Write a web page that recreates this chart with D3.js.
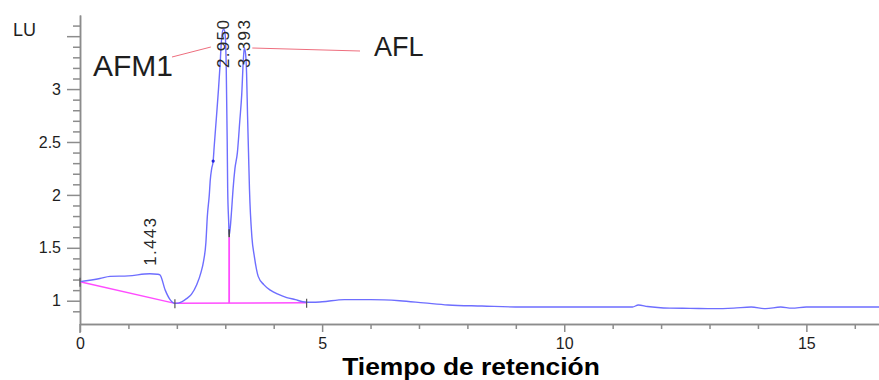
<!DOCTYPE html>
<html>
<head>
<meta charset="utf-8">
<script src="https://cdn.jsdelivr.net/npm/d3@7"></script>
<style>
  html, body { margin: 0; padding: 0; background: #fff; }
  svg { display: block; font-family: Arial, "Liberation Sans", sans-serif; }
</style>
</head>
<body>
<svg id="chart" width="879" height="380"></svg>
<script>
// Fluorescence trace (LU) against retention time (min)
const traceTime = [0, 0.41, 0.62, 1.0, 1.443, 1.6, 1.65, 1.76, 1.86, 1.96, 2.1, 2.2, 2.3, 2.41, 2.5, 2.55, 2.6, 2.63, 2.67, 2.69, 2.72, 2.75, 2.77, 2.82, 2.86, 2.89, 2.92, 2.95, 2.98, 3.0, 3.02, 3.04, 3.05, 3.07, 3.08, 3.1, 3.13, 3.16, 3.2, 3.25, 3.3, 3.34, 3.37, 3.393, 3.42, 3.44, 3.46, 3.48, 3.5, 3.55, 3.6, 3.68, 3.8, 3.93, 4.1, 4.27, 4.45, 4.6, 4.8, 5.0, 5.46, 6.0, 6.6, 7.1, 7.6, 8.3, 9.12, 10.0, 11.0, 11.41, 11.53, 11.72, 12.18, 12.6, 13.09, 13.5, 13.86, 14.16, 14.47, 14.7, 15.0, 15.6, 16.5];
const traceLU = [1.18, 1.21, 1.23, 1.235, 1.255, 1.25, 1.245, 1.10, 1.01, 0.975, 0.99, 1.02, 1.06, 1.15, 1.27, 1.37, 1.55, 1.8, 2.0, 2.14, 2.25, 2.32, 2.45, 2.75, 3.0, 3.21, 3.45, 3.56, 3.56, 3.5, 3.2, 2.5, 2.05, 1.75, 1.62, 1.68, 1.85, 2.05, 2.25, 2.4, 2.7, 2.95, 3.25, 3.39, 3.33, 3.15, 2.75, 2.4, 2.05, 1.6, 1.42, 1.23, 1.15, 1.10, 1.06, 1.03, 1.01, 0.99, 0.985, 0.99, 1.01, 1.01, 1.0, 0.98, 0.96, 0.95, 0.94, 0.94, 0.94, 0.94, 0.96, 0.945, 0.93, 0.928, 0.925, 0.93, 0.94, 0.925, 0.94, 0.93, 0.94, 0.94, 0.94];

// Integration baselines and the drop line between the two peaks
const baselineTime = [[0, 1.96], [1.96, 4.68]];
const baselineLU = [[1.18, 0.975], [0.975, 0.98]];
const dropTime = 3.08;
const dropLU = [0.977, 1.6];
const eventTime = [0, 1.96, 4.68];
const eventLU = [1.18, 0.975, 0.98];
const peakStartMark = [2.75, 2.32];

// Peak retention-time labels (LU level where each label starts)
const peakTimes = [1.443, 2.950, 3.393];
const peakLabels = ["1.443", "2.950", "3.393"];
const peakLabelLU = [1.33, 3.20, 3.20];

// Compound annotations
const compoundNames = ["AFM1", "AFL"];

// Axes
const xMajorTicks = [0, 5, 10, 15];
const xTickLabels = ["0", "5", "10", "15"];
const yMajorTicks = [1, 1.5, 2, 2.5, 3, 3.5];
const yTickLabels = ["1", "1.5", "2", "2.5", "3", ""];
const yUnit = "LU";
const xTitle = "Tiempo de retención";

const svg = d3.select("#chart");
const x = d3.scaleLinear().domain([0, 16.5]).range([80, 879]);
const y = d3.scaleLinear().domain([0.78, 3.70]).range([324, 15]);

const axisColor = "#8c8c8c";
const textColor = "#1e1e1e";

// X axis: minor ticks every minute, labelled majors every 5
const xMinor = d3.range(0, 17, 1).filter(v => !xMajorTicks.includes(v));
const gx = svg.append("g").attr("transform", `translate(0,${y.range()[0]})`);
gx.call(d3.axisBottom(x).tickValues(xMinor).tickSize(5).tickSizeOuter(0).tickFormat(""));
gx.append("g").call(d3.axisBottom(x).tickValues(xMajorTicks).tickSize(8).tickSizeOuter(0).tickPadding(6)
  .tickFormat((d, i) => xTickLabels[i]));
gx.selectAll("path.domain").attr("stroke", axisColor).attr("stroke-width", 1.5);
gx.selectAll(".tick line").attr("stroke", axisColor).attr("stroke-width", 1.5);
gx.selectAll(".tick text").attr("fill", textColor).style("font-size", "16px").style("font-family", "Arial, 'Liberation Sans', sans-serif");

// Y axis: minor ticks every 0.1 LU, majors every 0.5
const yMinor = d3.range(9, 37).map(v => v / 10).filter(v => !yMajorTicks.some(m => Math.abs(m - v) < 1e-6));
const gy = svg.append("g").attr("transform", `translate(${x.range()[0]},0)`);
gy.call(d3.axisLeft(y).tickValues(yMinor).tickSize(7).tickSizeOuter(0).tickFormat(""));
gy.append("g").call(d3.axisLeft(y).tickValues(yMajorTicks).tickSize(13).tickSizeOuter(0).tickPadding(6)
  .tickFormat((d, i) => yTickLabels[i]));
gy.selectAll("path.domain").attr("stroke", axisColor).attr("stroke-width", 1.5);
gy.selectAll(".tick line").attr("stroke", axisColor).attr("stroke-width", 1.5);
gy.selectAll(".tick text").attr("fill", textColor).style("font-size", "16px").style("font-family", "Arial, 'Liberation Sans', sans-serif");
// the 0 minute tick continues below the axis line
gx.append("line").attr("x1", x(0)).attr("x2", x(0)).attr("y1", 0).attr("y2", 9)
  .attr("stroke", axisColor).attr("stroke-width", 1.5);

svg.append("text").attr("x", 13).attr("y", 36).attr("fill", textColor)
  .style("font-size", "18px").text(yUnit);

svg.append("text").attr("x", 471).attr("y", 375).attr("text-anchor", "middle")
  .attr("fill", "#000").style("font-size", "24px").style("font-weight", "bold")
  .attr("transform", "translate(471,0) scale(1.1,1) translate(-471,0)")
  .text(xTitle);

// Baselines (magenta)
const magenta = "#ff4cff";
baselineTime.forEach((t, i) => {
  svg.append("line")
    .attr("x1", x(t[0])).attr("y1", y(baselineLU[i][0]))
    .attr("x2", x(t[1])).attr("y2", y(baselineLU[i][1]))
    .attr("stroke", magenta).attr("stroke-width", 1.5);
});
svg.append("line")
  .attr("x1", x(dropTime)).attr("x2", x(dropTime))
  .attr("y1", y(dropLU[0])).attr("y2", y(dropLU[1]))
  .attr("stroke", magenta).attr("stroke-width", 1.8);

// Trace
const line = d3.line().x(d => x(d[0])).y(d => y(d[1])).curve(d3.curveMonotoneX);
svg.append("path")
  .datum(traceTime.map((t, i) => [t, traceLU[i]]))
  .attr("d", line)
  .attr("fill", "none")
  .attr("stroke", "#6e6eff")
  .attr("stroke-width", 1.4)
  .attr("stroke-linejoin", "round");

// Integration event ticks
eventTime.forEach((t, i) => {
  svg.append("line")
    .attr("x1", x(t)).attr("x2", x(t))
    .attr("y1", y(eventLU[i]) - 4).attr("y2", y(eventLU[i]) + 5)
    .attr("stroke", "#555").attr("stroke-width", 1.2);
});
svg.append("line")
  .attr("x1", x(dropTime)).attr("x2", x(dropTime))
  .attr("y1", y(dropLU[1])).attr("y2", y(dropLU[1]) - 8)
  .attr("stroke", "#444").attr("stroke-width", 1.6);
svg.append("circle")
  .attr("cx", x(peakStartMark[0])).attr("cy", y(peakStartMark[1])).attr("r", 1.6)
  .attr("fill", "#2222dd");

// Retention-time labels, written upwards at each apex
peakTimes.forEach((t, i) => {
  svg.append("text")
    .attr("transform", `translate(${x(t) + 6},${y(peakLabelLU[i])}) rotate(-90)`)
    .attr("fill", "#2a2a2a")
    .style("font-size", "17px")
    .style("letter-spacing", "1.3px")
    .text(peakLabels[i]);
});

// Compound names with leader lines
const leader = "#ee6e7e";
svg.append("line").attr("x1", 172).attr("y1", 57).attr("x2", x(2.95) - 12).attr("y2", 47)
  .attr("stroke", leader).attr("stroke-width", 1);
svg.append("line").attr("x1", x(3.393) + 8).attr("y1", 48).attr("x2", 360).attr("y2", 51)
  .attr("stroke", leader).attr("stroke-width", 1);
svg.append("text").attr("x", 93).attr("y", 76).attr("fill", textColor)
  .style("font-size", "30px").text(compoundNames[0]);
svg.append("text").attr("x", 374).attr("y", 56).attr("fill", textColor)
  .style("font-size", "27px").text(compoundNames[1]);
</script>
</body>
</html>
